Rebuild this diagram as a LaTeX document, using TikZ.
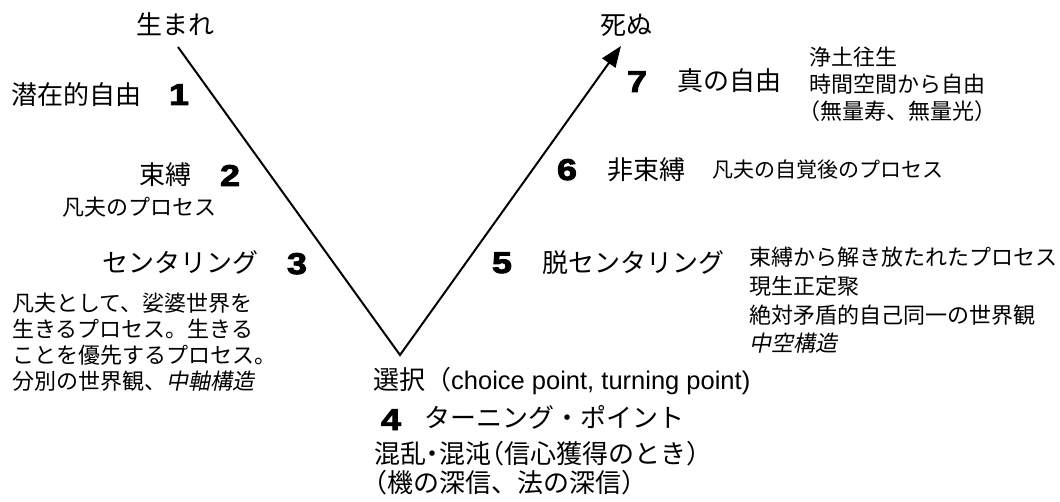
\documentclass[tikz,border=0pt]{standalone}
\usepackage{fontspec}
\setmainfont{Noto Sans CJK JP}
\newfontfamily\jpit[FakeSlant=0.2]{Noto Sans CJK JP}
\newfontfamily\numfont[FakeStretch=1.2,FakeBold=3]{Liberation Sans}
\newfontfamily\latinfont{Liberation Sans}
\usetikzlibrary{arrows.meta}
\begin{document}
\begin{tikzpicture}[x=1pt,y=-1pt,
  lbl/.style={inner sep=0pt, anchor=base west},
  txtbig/.style={lbl, font=\fontsize{26}{30}\selectfont},
  txtsmall/.style={lbl, font=\fontsize{22}{26}\selectfont},
  num/.style={inner sep=0pt, anchor=base, font=\numfont\bfseries\fontsize{30}{32}\selectfont},
  vline/.style={line width=2pt, line join=miter}]
\useasboundingbox (0,0) rectangle (1060,502);
\coordinate (birth) at (178,47);
\coordinate (choice) at (400,355);
\coordinate (death) at (621,46);
\draw[vline, -{Triangle[length=21pt,width=16pt]}] (birth) -- (choice) -- (death);

\node[txtbig] (umare) at (136,35) {生まれ};
\node[txtbig] (shinu) at (600,35) {死ぬ};
\node[txtbig] (s1) at (11,105) {潜在的自由};
\node[num] (n1) at (179,105) {1};
\node[txtbig] (s2) at (139,185) {束縛};
\node[num] (n2) at (230,186) {2};
\node[txtsmall] (d2) at (62,216) {凡夫のプロセス};
\node[txtbig] (s3) at (102,273) {センタリング};
\node[num] (n3) at (297,274) {3};
\node[txtsmall] (d3a) at (12,312) {凡夫として、娑婆世界を};
\node[txtsmall] (d3b) at (12,338) {生きるプロセス。生きる};
\node[txtsmall] (d3c) at (12,364) {ことを優先するプロセス。};
\node[txtsmall] (d3d) at (12,390) {分別の世界観、{\jpit 中軸構造}};

\node[txtbig] (sentaku) at (373,390) {選択（{\latinfont\fontsize{25.5}{30}\selectfont choice point, turning point)}};
\node[num] (n4) at (391,430) {4};
\node[txtbig] (s4) at (424,428) {ターニング・ポイント};
\node[txtbig] (d4a) at (374,463) {混乱\kern-.25em・\kern-.25em混沌\kern-.5em（信心獲得のとき）};
\node[txtbig] (d4b) at (374,492) {\kern-.5em（機の深信、法の深信）};

\node[num] (n5) at (502,273) {5};
\node[txtbig] (s5) at (542,273) {脱センタリング};
\node[txtsmall] (d5a) at (749,266) {束縛から解き放たれたプロセス};
\node[txtsmall] (d5b) at (749,295) {現生正定聚};
\node[txtsmall] (d5c) at (749,324) {絶対矛盾的自己同一の世界観};
\node[txtsmall] (d5d) at (749,352) {\jpit 中空構造};

\node[num] (n6) at (567,180) {6};
\node[txtbig] (s6) at (607,180) {非束縛};
\node[lbl, font=\fontsize{21}{25}\selectfont] (d6) at (712,178) {凡夫の自覚後のプロセス};

\node[num] (n7) at (637,92) {7};
\node[txtbig] (s7) at (677,91) {真の自由};
\node[txtsmall] (d7a) at (809,66) {浄土往生};
\node[txtsmall] (d7b) at (809,93) {時間空間から自由};
\node[txtsmall] (d7c) at (809,120) {\kern-.5em（無量寿、無量光）};
\end{tikzpicture}
\end{document}
